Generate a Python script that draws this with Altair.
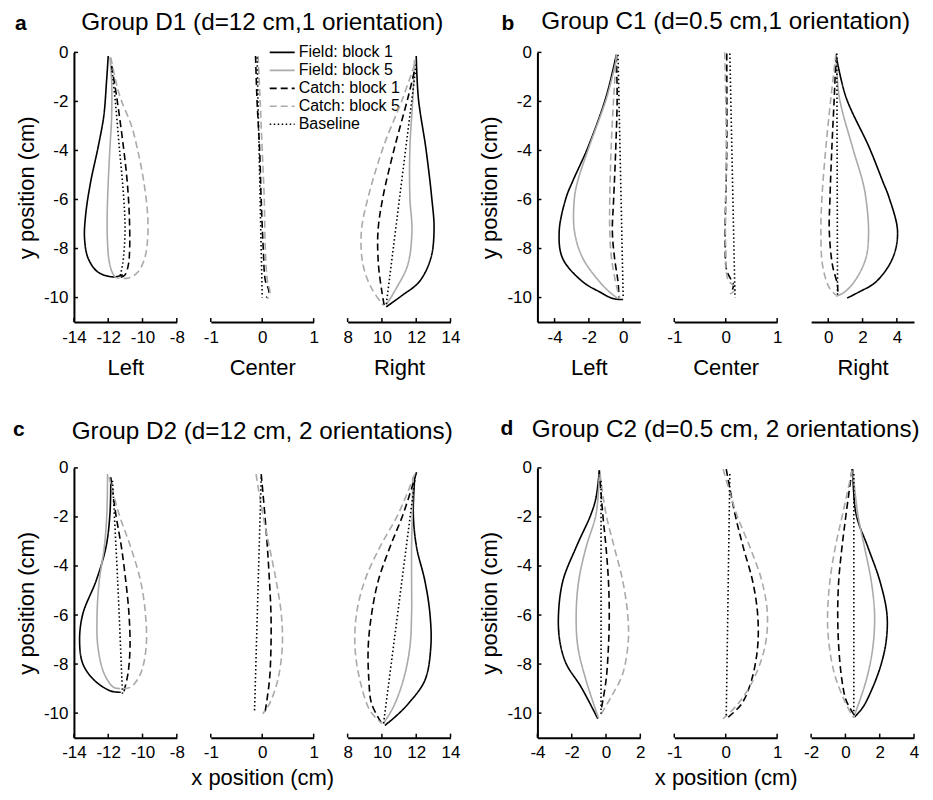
import altair as alt
import pandas as pd

FONT = "Liberation Sans"
SERIES = ["Field: block 1", "Field: block 5", "Catch: block 1", "Catch: block 5", "Baseline"]
COLORS = ["#000000", "#aaaaaa", "#000000", "#aaaaaa", "#000000"]
DASHES = [[1, 0], [1, 0], [7, 4], [7, 4], [1.5, 2.5]]

# ---------- Group D1 (a) ----------
aL_f1 = [(-12.0, -0.15), (-12.1, -1.2), (-12.26, -2.6), (-12.6, -3.9), (-13.03, -5.3), (-13.32, -6.65),
         (-13.38, -7.6), (-13.17, -8.4), (-12.6, -8.96), (-11.7, -9.16), (-11.15, -9.07)]
aL_f5 = [(-11.9, -0.2), (-11.8, -1.2), (-11.8, -2.6), (-11.9, -3.9), (-12.0, -5.3), (-12.06, -6.65),
         (-12.05, -7.6), (-11.95, -8.5), (-11.75, -9.0), (-11.55, -9.2)]
aL_c1 = [(-11.8, -0.55), (-11.49, -1.9), (-11.1, -3.93), (-10.89, -5.3), (-10.77, -6.65), (-10.75, -8.0),
         (-10.83, -8.68), (-11.04, -9.09), (-11.43, -9.2)]
aL_c5 = [(-11.85, -0.2), (-11.55, -1.2), (-11.27, -1.9), (-10.65, -2.98), (-10.3, -3.93), (-9.92, -5.3),
         (-9.7, -6.65), (-9.7, -7.6), (-9.88, -8.41), (-10.27, -8.96), (-10.8, -9.2), (-11.5, -9.2)]
aL_bl = [(-11.8, -0.6), (-11.6, -1.9), (-11.35, -3.9), (-11.1, -5.9), (-11.02, -7.3), (-11.15, -8.6), (-11.3, -9.1)]

aC_c1 = [(-0.13, -0.15), (-0.1, -2.0), (-0.05, -4.0), (-0.02, -6.0), (0.02, -8.0), (0.06, -9.3), (0.13, -9.75), (0.08, -10.0)]
aC_c5 = [(-0.08, -0.15), (-0.04, -2.0), (0.0, -4.0), (0.04, -6.0), (0.06, -8.0), (0.1, -9.3), (0.15, -9.8), (0.1, -10.05)]
aC_bl = [(-0.1, -0.2), (0.0, -10.0)]

aR_f1 = [(12.0, -0.15), (12.13, -1.9), (12.56, -3.9), (12.9, -5.9), (13.04, -7.2), (12.85, -8.4), (12.17, -9.36),
         (11.2, -9.9), (10.25, -10.38)]
aR_f5 = [(11.9, -0.3), (11.8, -1.9), (11.63, -3.9), (11.63, -5.9), (11.75, -7.3), (11.5, -8.68), (10.83, -9.63), (10.25, -10.3)]
aR_c1 = [(11.88, -0.8), (11.5, -1.9), (10.73, -3.9), (10.06, -5.9), (9.77, -7.3), (9.8, -8.68), (10.0, -9.77), (10.15, -10.4)]
aR_c5 = [(11.9, -0.5), (11.2, -1.9), (10.06, -3.9), (9.2, -5.9), (8.8, -7.3), (8.9, -8.68), (9.4, -9.63), (10.06, -10.3)]
aR_bl = [(12.0, -0.5), (10.25, -10.3)]

# ---------- Group C1 (b) ----------
bL_f1 = [(-0.4, -0.1), (-1.0, -1.82), (-2.06, -3.88), (-2.94, -5.25), (-3.33, -5.93), (-3.73, -7.3), (-3.53, -8.4),
         (-2.35, -9.36), (-1.37, -9.77), (-0.6, -10.04), (0.0, -10.08)]
bL_f5 = [(-0.35, -0.15), (-0.95, -1.82), (-2.0, -3.88), (-2.65, -5.25), (-2.84, -5.93), (-2.84, -7.3), (-2.35, -8.4),
         (-1.37, -9.36), (-0.75, -9.8), (-0.3, -10.04)]
bL_c1 = [(-0.4, -0.1), (-0.35, -1.82), (-0.43, -3.88), (-0.55, -5.93), (-0.63, -7.3), (-0.5, -8.4), (-0.3, -9.36), (-0.24, -10.0)]
bL_c5 = [(-0.4, -0.1), (-0.55, -1.82), (-0.7, -3.88), (-0.78, -5.93), (-0.78, -7.3), (-0.68, -8.4), (-0.4, -9.5), (-0.2, -10.0)]
bL_bl = [(-0.3, -0.1), (0.0, -10.0)]

bC_c1 = [(0.02, -0.05), (0.02, -3.88), (-0.01, -7.9), (0.02, -8.9), (0.15, -9.5), (0.1, -9.8)]
bC_c5 = [(-0.02, 0.0), (0.0, -1.82), (0.01, -3.88), (0.0, -5.93), (0.0, -7.95), (0.05, -9.3), (0.21, -9.62), (0.05, -9.9)]
bC_bl = [(0.08, -0.05), (0.18, -10.0)]

bR_f1 = [(0.45, -0.1), (1.03, -1.82), (2.39, -3.88), (3.17, -5.25), (3.55, -5.93), (4.04, -7.3), (3.75, -8.4),
         (2.78, -9.36), (1.8, -9.77), (1.1, -10.02)]
bR_f5 = [(0.45, -0.1), (0.64, -1.82), (1.42, -3.88), (2.0, -5.25), (2.19, -5.93), (2.35, -7.3), (2.19, -8.4),
         (1.51, -9.36), (0.9, -9.8), (0.45, -9.95)]
bR_c1 = [(0.45, -0.1), (0.35, -1.82), (0.21, -3.88), (0.1, -5.93), (0.06, -7.3), (0.25, -8.7), (0.54, -9.5), (0.54, -9.9)]
bR_c5 = [(0.45, -0.05), (0.16, -1.82), (-0.14, -3.88), (-0.37, -5.93), (-0.43, -7.3), (-0.33, -8.7), (0.06, -9.6), (0.45, -9.9)]
bR_bl = [(0.5, -0.05), (0.54, -9.95)]

# ---------- Group D2 (c) ----------
cL_f1 = [(-11.85, -0.5), (-11.9, -1.88), (-12.13, -3.23), (-12.7, -4.59), (-13.48, -5.95), (-13.67, -7.04),
         (-13.48, -7.99), (-12.8, -8.67), (-11.85, -9.1), (-11.27, -9.15)]
cL_f5 = [(-12.04, -0.25), (-12.08, -1.88), (-12.23, -3.23), (-12.52, -4.59), (-12.65, -5.95), (-12.6, -7.31),
         (-12.23, -8.4), (-11.7, -8.94), (-11.3, -9.0)]
cL_c1 = [(-11.85, -0.38), (-11.56, -1.88), (-11.23, -3.23), (-10.98, -4.59), (-10.79, -5.95), (-10.73, -7.31),
         (-10.85, -8.4), (-11.12, -9.21)]
cL_c5 = [(-11.95, -0.38), (-11.37, -1.88), (-10.69, -3.23), (-10.12, -4.59), (-9.83, -5.95), (-9.79, -7.31),
         (-10.12, -8.4), (-10.69, -8.94), (-11.2, -9.0)]
cL_bl = [(-11.75, -0.52), (-11.45, -4.59), (-11.17, -9.21)]

cC_c1 = [(-0.02, -0.25), (0.05, -1.88), (0.1, -3.23), (0.14, -4.59), (0.17, -5.95), (0.17, -7.31), (0.14, -8.67), (0.05, -10.03)]
cC_c5 = [(-0.12, -0.25), (0.01, -1.88), (0.14, -3.23), (0.27, -4.59), (0.37, -5.95), (0.39, -7.31), (0.3, -8.67),
         (0.14, -9.62), (0.01, -10.03)]
cC_bl = [(-0.02, -0.38), (-0.15, -9.96)]

cR_f1 = [(11.92, -0.3), (11.83, -1.88), (12.02, -3.23), (12.5, -4.59), (12.8, -5.95), (12.85, -7.31), (12.5, -8.67),
         (11.53, -9.62), (10.76, -10.16), (10.17, -10.5)]
cR_f5 = [(11.8, -0.38), (11.77, -1.88), (11.73, -3.23), (11.73, -4.59), (11.73, -5.95), (11.63, -7.31), (11.24, -8.67),
         (10.66, -9.76), (10.08, -10.43)]
cR_c1 = [(12.02, -0.18), (11.24, -1.88), (10.47, -3.23), (9.79, -4.59), (9.4, -5.95), (9.2, -7.31), (9.24, -8.67),
         (9.4, -9.62), (10.0, -10.43)]
cR_c5 = [(11.92, -0.25), (10.95, -1.88), (9.88, -3.23), (9.0, -4.59), (8.52, -5.95), (8.43, -7.31), (8.72, -8.67),
         (9.3, -9.89), (10.0, -10.43)]
cR_bl = [(11.92, -0.5), (10.08, -10.5)]

# ---------- Group C2 (d) ----------
dL_f1 = [(-0.39, -0.1), (-0.58, -1.2), (-0.87, -1.88), (-1.74, -3.23), (-2.51, -4.59), (-2.77, -5.95), (-2.7, -7.04),
         (-2.32, -7.99), (-1.45, -8.94), (-0.48, -10.23)]
dL_f5 = [(-0.39, -0.25), (-0.58, -1.88), (-1.16, -3.23), (-1.59, -4.59), (-1.74, -5.95), (-1.64, -7.31), (-1.16, -8.67), (-0.44, -10.2)]
dL_c1 = [(-0.39, -0.1), (-0.19, -1.88), (0.0, -3.23), (0.14, -4.59), (0.19, -5.95), (0.14, -7.31), (0.0, -8.67), (-0.29, -9.89)]
dL_c5 = [(-0.35, -0.25), (0.0, -1.88), (0.48, -3.23), (0.97, -4.59), (1.26, -5.95), (1.3, -7.04), (0.97, -8.4),
         (0.29, -9.35), (-0.39, -10.16)]
dL_bl = [(-0.29, -0.52), (-0.29, -10.03)]

dC_c1 = [(0.01, -0.05), (0.18, -1.88), (0.34, -3.23), (0.52, -4.59), (0.62, -5.95), (0.62, -7.31), (0.5, -8.67),
         (0.31, -9.62), (0.05, -10.16)]
dC_c5 = [(-0.05, -0.05), (0.21, -1.88), (0.47, -3.23), (0.7, -4.59), (0.81, -5.95), (0.76, -7.31), (0.53, -8.67),
         (0.24, -9.62), (-0.05, -10.23)]
dC_bl = [(0.08, -0.25), (0.01, -10.16)]

dR_f1 = [(0.43, -0.05), (0.62, -1.88), (1.31, -3.23), (2.0, -4.59), (2.42, -5.95), (2.38, -7.04), (2.09, -7.99),
         (1.6, -8.94), (1.02, -9.76), (0.53, -10.16)]
dR_f5 = [(0.43, -0.1), (0.72, -1.88), (1.11, -3.23), (1.5, -4.59), (1.7, -5.95), (1.6, -7.31), (1.21, -8.67), (0.47, -10.2)]
dR_c1 = [(0.39, -0.05), (0.04, -1.88), (-0.2, -3.23), (-0.39, -4.59), (-0.45, -5.95), (-0.39, -7.31), (-0.2, -8.67),
         (0.04, -9.48), (0.47, -10.03)]
dR_c5 = [(0.39, -0.1), (-0.16, -1.88), (-0.59, -3.23), (-0.9, -4.59), (-1.04, -5.95), (-0.98, -7.04), (-0.64, -8.4),
         (-0.06, -9.48), (0.43, -10.16)]
dR_bl = [(0.49, -0.25), (0.49, -10.09)]

Y_TICKS = [0, -2, -4, -6, -8, -10]
Y_DOMAIN = [-11, 0]

W, H = 103, 270
LABEL_EXPR = "'' + datum.value"


def make_df(curves):
    rows = []
    for name, pts in curves:
        for i, (x, y) in enumerate(pts):
            rows.append({"x": x, "y": y, "s": name, "i": i})
    return pd.DataFrame(rows)


def panel(curves, xdom, xticks, left=False, xtitle=None, title=None, legend=None, title_pad=12):
    df = make_df(curves)
    xscale = alt.Scale(domain=xdom, nice=False, zero=False)
    yscale = alt.Scale(domain=Y_DOMAIN, nice=False, zero=False)
    xaxis_kw = dict(values=xticks, ticks=False, domainWidth=2, domainColor="black", labelFontSize=17,
                    labelColor="black", labelFont=FONT, labelPadding=7, labelFlush=False, labelOverlap=False,
                    grid=False, labelExpr=LABEL_EXPR)
    if xtitle:
        xaxis_kw.update(title=xtitle, titleFontSize=22, titleFontWeight="normal", titleFont=FONT,
                        titleColor="black", titlePadding=title_pad)
    else:
        xaxis_kw.update(title=None)
    yaxis_kw = dict(values=Y_TICKS, ticks=False, domainWidth=2, domainColor="black",
                    labelFontSize=17, labelColor="black", labelFont=FONT,
                    labelPadding=6, grid=False, labelExpr=LABEL_EXPR,
                    title="y position (cm)", titleFontSize=22,
                    titleFontWeight="normal", titleFont=FONT, titleColor="black",
                    titlePadding=5)
    if left:
        yenc = alt.Y("y:Q", scale=yscale, axis=alt.Axis(**yaxis_kw))
    else:
        yenc = alt.Y("y:Q", scale=yscale, axis=None)
    color_kw = dict(scale=alt.Scale(domain=SERIES, range=COLORS))
    dash_kw = dict(scale=alt.Scale(domain=SERIES, range=DASHES))
    if legend is not None:
        color_kw["legend"] = legend
        dash_kw["legend"] = legend
    else:
        color_kw["legend"] = None
        dash_kw["legend"] = None
    lines = alt.Chart(df).mark_line(strokeWidth=1.6, interpolate="catmull-rom").encode(
        x=alt.X("x:Q", scale=xscale, axis=alt.Axis(**xaxis_kw)),
        y=yenc,
        color=alt.Color("s:N", **color_kw),
        strokeDash=alt.StrokeDash("s:N", **dash_kw),
        order=alt.Order("i:Q"),
    )
    xt = alt.Chart(pd.DataFrame({"v": xticks})).mark_rule(color="black", strokeWidth=1.5).encode(
        x=alt.X("v:Q", scale=xscale, axis=alt.Axis(**xaxis_kw)), y=alt.value(H), y2=alt.value(H - 4))
    layers = [lines, xt]
    if left:
        yt = alt.Chart(pd.DataFrame({"v": Y_TICKS})).mark_rule(color="black", strokeWidth=1.5).encode(
            y=alt.Y("v:Q", scale=yscale, axis=alt.Axis(**yaxis_kw)), x=alt.value(0), x2=alt.value(4))
        layers.append(yt)
    ch = alt.layer(*layers).properties(width=W, height=H)
    if title is not None:
        ch = ch.properties(title=title)
    return ch


def letter(t, dx, off):
    return alt.TitleParams(t, anchor="start", frame="group", dx=dx, fontSize=21, fontWeight="bold", font=FONT,
                           color="black", baseline="alphabetic", offset=off)


def gtitle(t, off):
    return alt.TitleParams(t, anchor="middle", frame="group", fontSize=24.3, fontWeight="normal", font=FONT,
                           color="black", baseline="alphabetic", offset=off)


def spacer():
    return alt.Chart(pd.DataFrame({"v": [0]})).mark_point(opacity=0).encode(
        x=alt.X("v:Q", axis=None), y=alt.Y("v:Q", axis=None)).properties(width=19, height=H)


F1, F5, C1, C5, BL = SERIES
legend = alt.Legend(orient="none", legendX=58, legendY=-8, title=None)

aL = panel([(F1, aL_f1), (F5, aL_f5), (C1, aL_c1), (C5, aL_c5), (BL, aL_bl)], [-14, -8], [-14, -12, -10, -8],
           left=True, xtitle="Left", title=letter("a", -59, -8))
aC = panel([(C1, aC_c1), (C5, aC_c5), (BL, aC_bl)], [-1, 1], [-1, 0, 1], xtitle="Center",
           title=gtitle("Group D1 (d=12 cm,1 orientation)", -10), legend=legend)
aR = panel([(F1, aR_f1), (F5, aR_f5), (C1, aR_c1), (C5, aR_c5), (BL, aR_bl)], [8, 14], [8, 10, 12, 14], xtitle="Right")

bL = panel([(F1, bL_f1), (F5, bL_f5), (C1, bL_c1), (C5, bL_c5), (BL, bL_bl)], [-5, 1], [-4, -2, 0],
           left=True, xtitle="Left", title=letter("b", -36, -8))
bC = panel([(C1, bC_c1), (C5, bC_c5), (BL, bC_bl)], [-1, 1], [-1, 0, 1], xtitle="Center",
           title=gtitle("Group C1 (d=0.5 cm,1 orientation)", -4))
bR = panel([(F1, bR_f1), (F5, bR_f5), (C1, bR_c1), (C5, bR_c5), (BL, bR_bl)], [-1, 5], [0, 2, 4], xtitle="Right")

cL = panel([(F1, cL_f1), (F5, cL_f5), (C1, cL_c1), (C5, cL_c5), (BL, cL_bl)], [-14, -8], [-14, -12, -10, -8],
           left=True, title=letter("c", -61, 2))
cC = panel([(C1, cC_c1), (C5, cC_c5), (BL, cC_bl)], [-1, 1], [-1, 0, 1], xtitle="x position (cm)",
           title=gtitle("Group D2 (d=12 cm, 2 orientations)", 5), title_pad=7)
cR = panel([(F1, cR_f1), (F5, cR_f5), (C1, cR_c1), (C5, cR_c5), (BL, cR_bl)], [8, 14], [8, 10, 12, 14])

dL = panel([(F1, dL_f1), (F5, dL_f5), (C1, dL_c1), (C5, dL_c5), (BL, dL_bl)], [-4, 2], [-4, -2, 0, 2],
           left=True, title=letter("d", -37, 3))
dC = panel([(C1, dC_c1), (C5, dC_c5), (BL, dC_bl)], [-1, 1], [-1, 0, 1], xtitle="x position (cm)",
           title=gtitle("Group C2 (d=0.5 cm, 2 orientations)", 5), title_pad=7)
dR = panel([(F1, dR_f1), (F5, dR_f5), (C1, dR_c1), (C5, dR_c5), (BL, dR_bl)], [-2, 4], [-2, 0, 2, 4])

chart = alt.concat(aL, aC, aR, spacer(), bL, bC, bR,
                   cL, cC, cR, spacer(), dL, dC, dR,
                   columns=7, spacing={"row": 146, "column": 34}, bounds="flush").resolve_scale(
    color="independent", strokeDash="independent").configure_view(stroke=None).configure_legend(
    labelFontSize=16, labelFont=FONT, labelColor="black", symbolType="stroke", symbolSize=625,
    symbolStrokeWidth=1.6, labelOffset=3, rowPadding=2, clipHeight=16, padding=0).properties(
    padding={"left": 5, "top": 1, "right": 5, "bottom": 5})

chart.save("out.html", embed_options={"renderer": "svg", "actions": False})
